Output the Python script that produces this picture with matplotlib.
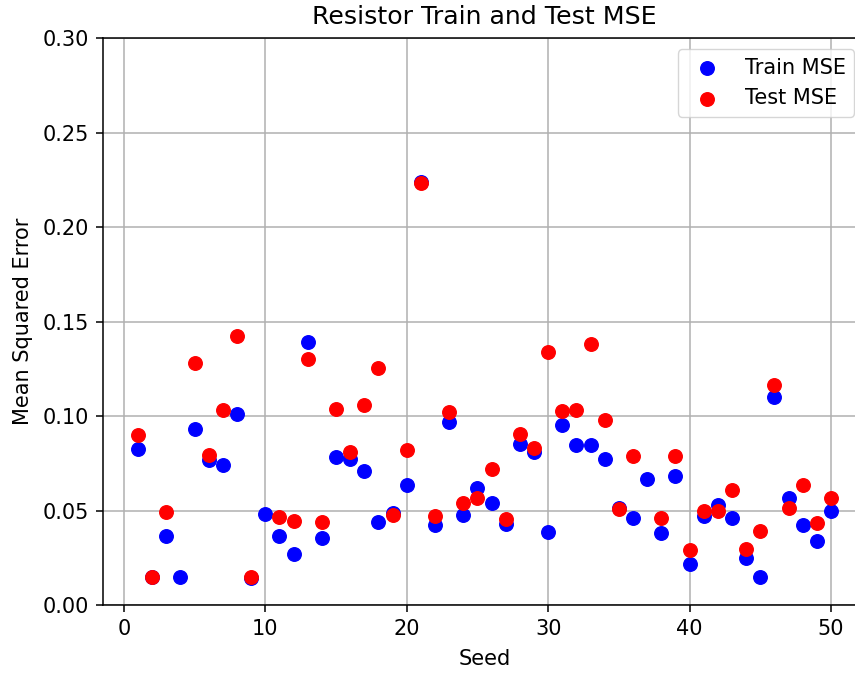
import numpy as np
import matplotlib
matplotlib.use("Agg")
import matplotlib.pyplot as plt
from matplotlib.ticker import FormatStrFormatter

nan = np.nan

seeds = list(range(1, 51))

train_mse = [
    0.0826, 0.0150, 0.0364, 0.0147, 0.0930, 0.0766, 0.0741, 0.1010, 0.0141, 0.0482,
    0.0367, 0.0268, 0.1393, 0.0357, 0.0782, 0.0772, 0.0708, 0.0441, 0.0489, 0.0634,
    0.2240, 0.0422, 0.0966, 0.0477, 0.0618, 0.0539, 0.0429, 0.0851, 0.0809, 0.0385,
    0.0953, 0.0844, 0.0847, 0.0770, 0.0512, 0.0459, 0.0667, 0.0380, 0.0685, 0.0217,
    0.0471, 0.0530, 0.0461, 0.0251, 0.0147, 0.1100, 0.0565, 0.0424, 0.0339, 0.0496,
]

test_mse = [
    0.0900, 0.0147, 0.0494, nan, 0.1283, 0.0794, 0.1033, 0.1421, 0.0150, nan,
    0.0466, 0.0445, 0.1301, 0.0440, 0.1035, 0.0812, 0.1058, 0.1254, 0.0477, 0.0819,
    0.2235, 0.0473, 0.1019, 0.0539, 0.0565, 0.0720, 0.0456, 0.0904, 0.0830, 0.1337,
    0.1028, 0.1033, 0.1382, 0.0980, 0.0507, 0.0786, nan, 0.0459, 0.0788, 0.0291,
    0.0496, 0.0496, 0.0609, 0.0295, 0.0392, 0.1164, 0.0512, 0.0636, 0.0433, 0.0565,
]

plt.rcParams["font.size"] = 15
plt.rcParams["xtick.major.size"] = 5
plt.rcParams["ytick.major.size"] = 5
plt.rcParams["xtick.major.width"] = 1.1
plt.rcParams["ytick.major.width"] = 1.1
plt.rcParams["xtick.major.pad"] = 5
plt.rcParams["ytick.major.pad"] = 5

fig = plt.figure(figsize=(8.55, 6.75), dpi=100)
ax = fig.add_axes([0.1208, 0.1037, 0.8917, 0.84])

ax.scatter(seeds, train_mse, color="blue", s=95, label="Train MSE", zorder=3)
ax.scatter(seeds, test_mse, color="red", s=95, label="Test MSE", zorder=3)

ax.set_xlim(-1.45, 52.45)
ax.set_ylim(0, 0.30)
ax.set_xticks([0, 10, 20, 30, 40, 50])
ax.set_yticks(np.arange(0, 0.31, 0.05))
ax.yaxis.set_major_formatter(FormatStrFormatter("%.2f"))
ax.grid(True, color="#b0b0b0", linewidth=1.1)
ax.set_axisbelow(True)

ax.set_title("Resistor Train and Test MSE", fontsize=18.2, pad=10)
ax.set_xlabel("Seed", labelpad=7)
ax.set_ylabel("Mean Squared Error", labelpad=7)
ax.legend(loc="upper right", fontsize=15, borderaxespad=0.55)

for sp in ax.spines.values():
    sp.set_linewidth(1.1)

fig.savefig("out.png", dpi=100)
